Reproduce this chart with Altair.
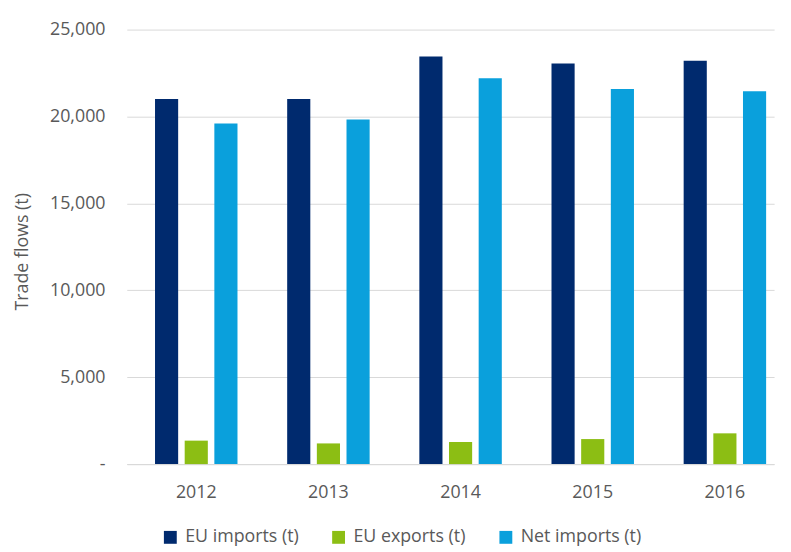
import altair as alt
import pandas as pd

years = ["2012", "2013", "2014", "2015", "2016"]
series = ["EU imports (t)", "EU exports (t)", "Net imports (t)"]
eu_imports = [21000, 21000, 23450, 23050, 23200]
eu_exports = [1350, 1190, 1270, 1440, 1770]
net_imports = [19600, 19830, 22200, 21580, 21450]
colors = ["#002a6e", "#8cbe14", "#0aa0dc"]

rows = []
for i, y in enumerate(years):
    for s, vals in zip(series, [eu_imports, eu_exports, net_imports]):
        rows.append({"Year": y, "Series": s, "Value": vals[i]})
df = pd.DataFrame(rows)

FONT = "Open Sans"
GREY = "#595959"

chart = alt.Chart(df).mark_bar().encode(
    x=alt.X("Year:N", sort=years,
            scale=alt.Scale(paddingInner=0.376, paddingOuter=0.137, align=0.78),
            axis=alt.Axis(title=None, labelAngle=0, ticks=False, domain=True,
                          domainColor="#d9d9d9", labelBaseline="alphabetic",
                          labelPadding=34, labelFontSize=18, labelColor=GREY,
                          labelFont=FONT, grid=False)),
    xOffset=alt.XOffset("Series:N", sort=series,
                        scale=alt.Scale(paddingInner=0.22, paddingOuter=0)),
    y=alt.Y("Value:Q", scale=alt.Scale(domain=[0, 25000], nice=False),
            axis=alt.Axis(title="Trade flows (t)", values=[0, 5000, 10000, 15000, 20000, 25000],
                          labelExpr="datum.value === 0 ? '-' : format(datum.value, ',')",
                          ticks=False, domain=False, grid=True, gridColor="#d9d9d9",
                          labelPadding=22, labelFontSize=18, labelColor=GREY,
                          labelFont=FONT, titleFont=FONT, titleFontSize=18,
                          titleFontWeight="normal", titleColor=GREY,
                          titleAngle=270, titleBaseline="alphabetic", titleAlign="center",
                          titleX=-100, titleY=224)),
    color=alt.Color("Series:N", sort=series,
                    scale=alt.Scale(domain=series, range=colors),
                    legend=alt.Legend(title=None, orient="none", direction="horizontal",
                                      legendX=35, legendY=504, symbolType="square",
                                      symbolSize=169, symbolStrokeWidth=0,
                                      labelFont=FONT, labelFontSize=18, labelColor=GREY,
                                      labelOffset=6, columnPadding=31, padding=0)),
).properties(
    width=654, height=439,
    autosize=alt.AutoSizeParams(type="none"),
    padding={"left": 120, "top": 19, "right": 9, "bottom": 86},
).configure_view(stroke=None)

chart.save("out.html", embed_options={"renderer": "svg", "actions": False})
